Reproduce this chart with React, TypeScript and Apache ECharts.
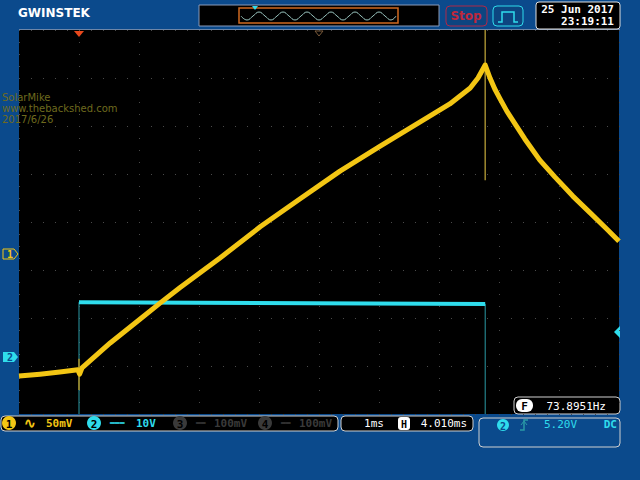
import React, { useEffect, useRef } from "react";
import * as echarts from "echarts";

// Trace data in screen divisions (x: 0..10 div, 1ms/div; y: 0..8 div from bottom)
const ch1X = [0, 0.35, 0.68, 0.98, 1.01, 1.05, 1.52, 2.02, 2.35, 2.68, 3.35, 4.02, 4.68, 5.35, 6.02, 6.68, 7.18, 7.52, 7.65, 7.77, 7.85, 7.93, 8.02, 8.13, 8.27, 8.43, 8.68, 8.93, 9.23, 9.52, 9.8, 10.0];
const ch1Y = [0.79, 0.83, 0.875, 0.92, 0.83, 0.96, 1.48, 1.98, 2.31, 2.63, 3.25, 3.9, 4.48, 5.06, 5.58, 6.08, 6.46, 6.79, 7.0, 7.27, 7.0, 6.77, 6.56, 6.31, 6.04, 5.73, 5.29, 4.94, 4.54, 4.19, 3.85, 3.6];
const spikeX = [7.77, 7.77];
const spikeY = [8.0, 4.87];
const glitchX = [1.0, 1.0];
const glitchY = [1.15, 0.5];
const ch2EdgeX = [1.0, 1.0, 7.77, 7.77];
const ch2EdgeY = [0, 2.33, 2.29, 0];
const ch2HighX = [1.0, 7.77];
const ch2HighY = [2.33, 2.29];

const topLabels = { brand: "GWINSTEK", stop: "Stop", date: "25 Jun 2017", time: "23:19:11" };
const watermark = ["SolarMike", "www.thebackshed.com", "2017/6/26"];
const ch1Scale = "50mV";
const ch2Scale = "10V";
const ch3Scale = "100mV";
const ch4Scale = "100mV";
const timeDiv = "1ms";
const hPos = "4.010ms";
const trigLevel = "5.20V";
const trigCoupling = "DC";
const freq = "73.8951Hz";

const zip = (xs: number[], ys: number[]) => xs.map((x, i) => [x, ys[i]]);

const BLUE = "#0b4a8c";
const YEL = "#f3c614";
const CYAN = "#2fdcec";
const MONO = "'DejaVu Sans Mono', monospace";

export default function App() {
  const ref = useRef<HTMLDivElement>(null);
  useEffect(() => {
    if (!ref.current) return;
    const chart = echarts.init(ref.current, null, { renderer: "svg" });
    const boxText = (text: string, x: number, y: number, fill: string, size = 11, weight = "bold", align = "left") => ({
      type: "text",
      x,
      y,
      style: { text, fill, fontSize: size, fontFamily: MONO, fontWeight: weight, align, verticalAlign: "middle" },
    });
    const circ = (cx: number, cy: number, fill: string, label: string) => [
      { type: "circle", shape: { cx, cy, r: 7 }, style: { fill } },
      boxText(label, cx, cy + 1, "#000", 11, "bold", "center"),
    ];
    chart.setOption({
      animation: false,
      backgroundColor: BLUE,
      grid: { left: 19, top: 30, width: 600, height: 384, show: true, backgroundColor: "#000", borderWidth: 0 },
      xAxis: {
        type: "value",
        min: 0,
        max: 10,
        interval: 1,
        axisLabel: { show: false },
        axisLine: { show: false },
        axisTick: { show: false },
        splitLine: { show: true, lineStyle: { color: "#4a4a4a", width: 1, type: [1, 11] } },
      },
      yAxis: {
        type: "value",
        min: 0,
        max: 8,
        interval: 1,
        axisLabel: { show: false },
        axisLine: { show: false },
        axisTick: { show: false },
        splitLine: { show: true, lineStyle: { color: "#4a4a4a", width: 1, type: [1, 11] } },
      },
      series: [
        {
          type: "line",
          data: zip(ch2EdgeX, ch2EdgeY),
          showSymbol: false,
          lineStyle: { color: "#2a9aa6", width: 1 },
          z: 2,
        },
        {
          type: "line",
          data: zip(ch2HighX, ch2HighY),
          showSymbol: false,
          lineStyle: { color: CYAN, width: 4 },
          z: 3,
        },
        {
          type: "line",
          data: zip(spikeX, spikeY),
          showSymbol: false,
          lineStyle: { color: "#a08a30", width: 1.5 },
          z: 4,
        },
        {
          type: "line",
          data: zip(glitchX, glitchY),
          showSymbol: false,
          lineStyle: { color: "#b09020", width: 1.5 },
          z: 4,
        },
        {
          type: "line",
          data: zip(ch1X, ch1Y),
          showSymbol: false,
          lineStyle: { color: YEL, width: 5, join: "round" },
          z: 5,
        },
      ],
      graphic: [
        // top border line of screen
        { type: "rect", shape: { x: 19, y: 29, width: 601, height: 1 }, style: { fill: "#6d86a8" } },
        // brand
        { type: "text", x: 18, y: 13, style: { text: topLabels.brand, fill: "#fff", fontSize: 12, fontFamily: "'DejaVu Sans', sans-serif", fontWeight: "bold", verticalAlign: "middle" } },
        // memory bar
        { type: "rect", shape: { x: 199, y: 5, width: 240, height: 21 }, style: { fill: "#000", stroke: "#8a9ab8", lineWidth: 1 } },
        { type: "rect", shape: { x: 239, y: 8, width: 159, height: 15 }, style: { fill: "#000", stroke: "#d06a20", lineWidth: 1.5 } },
        {
          type: "polyline",
          shape: {
            points: [
              [241, 16], [247, 20], [253, 16], [259, 12], [265, 16], [271, 20], [277, 16], [283, 12], [289, 16], [295, 20], [301, 16], [307, 12], [313, 16], [319, 20], [325, 16], [331, 12], [337, 16], [343, 20], [349, 16], [355, 12], [361, 16], [367, 20], [373, 16], [379, 12], [385, 16], [391, 20], [396, 16],
            ],
            smooth: 0.5,
          },
          style: { stroke: "#9ac6c0", lineWidth: 1, fill: null },
        },
        { type: "polygon", shape: { points: [[252, 6], [258, 6], [255, 10]] }, style: { fill: CYAN } },
        // Stop button
        { type: "rect", shape: { x: 446, y: 6, width: 41, height: 20, r: 4 }, style: { fill: "#0d4580", stroke: "#b02848", lineWidth: 1 } },
        { type: "text", x: 466, y: 16, style: { text: topLabels.stop, fill: "#c0283c", fontSize: 12, fontFamily: "'DejaVu Sans', sans-serif", fontWeight: "bold", align: "center", verticalAlign: "middle" } },
        // run mode button
        { type: "rect", shape: { x: 493, y: 6, width: 30, height: 20, r: 4 }, style: { fill: "#0d4580", stroke: CYAN, lineWidth: 1 } },
        { type: "polyline", shape: { points: [[498, 22], [502, 22], [502, 12], [514, 12], [514, 22], [518, 22]] }, style: { stroke: CYAN, lineWidth: 1.5, fill: null } },
        // date box
        { type: "rect", shape: { x: 536, y: 2, width: 84, height: 27, r: 3 }, style: { fill: "#000", stroke: "#e0e0e0", lineWidth: 1 } },
        boxText(topLabels.date, 614, 9, "#fff", 11, "bold", "right"),
        boxText(topLabels.time, 614, 21, "#fff", 11, "bold", "right"),
        // top markers
        { type: "polygon", shape: { points: [[74, 31], [84, 31], [79, 37]] }, style: { fill: "#e8481c" } },
        { type: "polygon", shape: { points: [[315, 31], [323, 31], [319, 36]] }, style: { fill: "none", stroke: "#7a5a3a", lineWidth: 1 } },
        // watermark
        ...watermark.map((t, i) => ({ type: "text", x: 2, y: 97 + i * 11, style: { text: t, fill: "#6e6a1e", fontSize: 10, fontFamily: "'DejaVu Sans', sans-serif", verticalAlign: "middle" } })),
        // channel markers
        { type: "polygon", shape: { points: [[3, 249], [14, 249], [18, 254], [14, 259], [3, 259]] }, style: { fill: "#0b4a8c", stroke: YEL, lineWidth: 1 } },
        boxText("1", 10, 254, YEL, 10, "bold", "center"),
        { type: "polygon", shape: { points: [[3, 352], [14, 352], [18, 357], [14, 362], [3, 362]] }, style: { fill: CYAN } },
        boxText("2", 10, 357, "#0b4a8c", 10, "bold", "center"),
        // trigger level marker
        { type: "polygon", shape: { points: [[620, 326], [620, 338], [614, 332]] }, style: { fill: CYAN } },
        // freq box
        { type: "rect", shape: { x: 514, y: 397, width: 106, height: 17, r: 4 }, style: { fill: "#000", stroke: "#d0d0d0", lineWidth: 1 } },
        { type: "rect", shape: { x: 516, y: 399, width: 17, height: 13, r: 6 }, style: { fill: "#fff" } },
        boxText("F", 524.5, 406, "#000", 11, "bold", "center"),
        boxText(freq, 606, 406, "#fff", 11, "normal", "right"),
        // bottom status bar
        { type: "rect", shape: { x: 1, y: 416, width: 337, height: 15, r: 4 }, style: { fill: "#000", stroke: "#d0d0d0", lineWidth: 1 } },
        ...circ(9, 423, YEL, "1"),
        boxText("∿", 30, 423, YEL, 14, "bold", "center"),
        boxText(ch1Scale, 46, 423, YEL, 11, "bold"),
        ...circ(94, 423, CYAN, "2"),
        boxText("═══", 110, 423, CYAN, 8, "bold"),
        boxText(ch2Scale, 136, 423, CYAN, 11, "bold"),
        ...circ(180, 423, "#3a3a3a", "3"),
        boxText("══", 196, 423, "#3a3a3a", 8, "bold"),
        boxText(ch3Scale, 214, 423, "#3a3a3a", 11, "bold"),
        ...circ(265, 423, "#3a3a3a", "4"),
        boxText("══", 281, 423, "#3a3a3a", 8, "bold"),
        boxText(ch4Scale, 299, 423, "#3a3a3a", 11, "bold"),
        // timebase box
        { type: "rect", shape: { x: 341, y: 416, width: 132, height: 15, r: 4 }, style: { fill: "#000", stroke: "#d0d0d0", lineWidth: 1 } },
        boxText(timeDiv, 374, 423, "#fff", 11, "normal", "center"),
        { type: "rect", shape: { x: 398, y: 417, width: 12, height: 13, r: 3 }, style: { fill: "#fff" } },
        boxText("H", 404, 424, "#000", 10, "bold", "center"),
        boxText(hPos, 467, 423, "#fff", 11, "normal", "right"),
        // trigger box
        { type: "rect", shape: { x: 479, y: 418, width: 141, height: 29, r: 4 }, style: { fill: "#0b4a8c", stroke: "#d0d0d0", lineWidth: 1 } },
        { type: "circle", shape: { cx: 503, cy: 425, r: 6 }, style: { fill: CYAN } },
        boxText("2", 503, 426, "#0b4a8c", 10, "bold", "center"),
        { type: "polyline", shape: { points: [[520, 430], [524, 430], [524, 420], [528, 420]] }, style: { stroke: "#2a9aa6", lineWidth: 1.5, fill: null } },
        { type: "polyline", shape: { points: [[521, 425], [524, 421], [527, 425]] }, style: { stroke: "#2a9aa6", lineWidth: 1, fill: null } },
        boxText(trigLevel, 544, 424, CYAN, 11, "normal"),
        boxText(trigCoupling, 617, 424, CYAN, 11, "bold", "right"),
      ],
    });
    return () => chart.dispose();
  }, []);
  return <div ref={ref} style={{ width: 640, height: 480, position: "absolute", left: 0, top: 0 }} />;
}
